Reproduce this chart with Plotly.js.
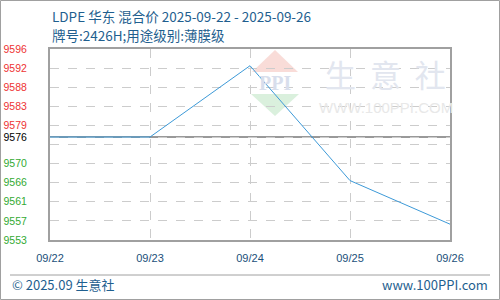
<!DOCTYPE html>
<html>
<head>
<meta charset="utf-8">
<script src="https://cdn.plot.ly/plotly-3.0.1.min.js"></script>
<style>html,body{margin:0;padding:0;background:#fff;}#chart{width:500px;height:300px;}</style>
</head>
<body>
<div id="chart"></div>
<script>
// ---- data ----
var dates = ['09/22', '09/23', '09/24', '09/25', '09/26'];
var prices = [9576.4, 9576.4, 9592.6, 9566.5, 9556.6];
var baseValue = 9576.4;
var baseLabel = '9576';
var basePctLabel = '0.00%';
var yRange = [9553, 9596.4];
var gridVals = [9553.0, 9557.34, 9561.68, 9566.02, 9570.36, 9574.70, 9579.04, 9583.38, 9587.72, 9592.06, 9596.4];
var leftLabels = ['9553', '9557', '9561', '9566', '9570', '', '9579', '9583', '9588', '9592', '9596'];
var rightLabels = ['-0.25%', '-0.20%', '-0.16%', '-0.11%', '-0.06%', '', '0.03%', '0.07%', '0.12%', '0.17%', '0.21%'];
var titleLine1 = 'LDPE 华东 混合价 2025-09-22 - 2025-09-26';
var titleLine2 = '牌号:2426H;用途级别:薄膜级';
var footerLeft = '© 2025.09 生意社';
var footerRight = 'www.100PPI.com';

// ---- build ----
var RED = '#ee3333', GREEN = '#33aa33', BLACK = '#000000';
function colored(t, v) {
  if (t === '') return '';
  var c = v > baseValue ? RED : (v < baseValue ? GREEN : BLACK);
  return '<span style="color:' + c + '">' + t + '</span>';
}
var lTickVals = gridVals.concat([baseValue]);
var lTickText = leftLabels.map(function (t, i) { return colored(t, gridVals[i]); }).concat(['<span style="color:#000">' + baseLabel + '</span>']);
var rTickText = rightLabels.map(function (t, i) { return colored(t, gridVals[i]); }).concat(['<span style="color:#000">' + basePctLabel + '</span>']);
var negVals = gridVals.filter(function (v, i) { return v < baseValue && rightLabels[i] !== ''; });

var W = 500, H = 300, ML = 50, MR = 50, MT = 49, MB = 60;
var PW = W - ML - MR, PH = H - MT - MB;
function px(x) { return (x - ML) / PW; }
function py(y) { return (H - MB - y) / PH; }

var traces = [{
  x: dates, y: prices, type: 'scatter', mode: 'lines',
  line: { color: '#3d9ad8', width: 1 }, hoverinfo: 'skip', showlegend: false
}];

var tickFont = { family: 'Liberation Sans, Arial, sans-serif', size: 10.5 };
var layout = {
  width: W, height: H,
  margin: { l: ML, r: MR, t: MT, b: MB, pad: 0 },
  paper_bgcolor: '#ffffff', plot_bgcolor: 'rgba(0,0,0,0)',
  showlegend: false,
  xaxis: {
    type: 'category', range: [0, dates.length - 1],
    showgrid: true, gridcolor: '#cccccc', griddash: 'dash', gridwidth: 1,
    showline: true, mirror: true, linecolor: '#a0a0a0', linewidth: 2,
    ticks: '', ticklabelstandoff: 7,
    tickfont: { family: tickFont.family, size: 11, color: '#1a4f7a' },
    zeroline: false, fixedrange: true
  },
  yaxis: {
    range: yRange, tickmode: 'array', tickvals: lTickVals, ticktext: lTickText,
    showgrid: true, gridcolor: '#cccccc', griddash: 'dash', gridwidth: 1,
    showline: true, mirror: true, linecolor: '#a0a0a0', linewidth: 2,
    ticks: '', ticklabelstandoff: 19, tickfont: tickFont,
    zeroline: false, fixedrange: true
  },
  yaxis2: {
    overlaying: 'y', side: 'right', range: yRange, tickmode: 'array',
    tickvals: lTickVals, ticktext: rTickText, showgrid: false, showline: false,
    ticks: '', ticklabelstandoff: 4, tickfont: tickFont, zeroline: false, fixedrange: true
  },
  yaxis3: {
    overlaying: 'y', side: 'right', range: yRange, tickmode: 'array',
    tickvals: negVals, showticklabels: false, showgrid: false, showline: false,
    ticks: 'outside', ticklen: 5, tickwidth: 2, tickcolor: GREEN, zeroline: false, fixedrange: true
  },
  shapes: [
    { type: 'line', xref: 'paper', yref: 'y', x0: 0, x1: 1, y0: baseValue, y1: baseValue,
      line: { color: '#999999', width: 2 }, layer: 'below' },
    { type: 'path', xref: 'paper', yref: 'paper', layer: 'below',
      path: 'M ' + px(275) + ' ' + py(50) + ' L ' + px(298) + ' ' + py(72) + ' L ' + px(252) + ' ' + py(72) + ' Z',
      fillcolor: '#f9dcd8', line: { width: 0 } },
    { type: 'path', xref: 'paper', yref: 'paper', layer: 'below',
      path: 'M ' + px(251) + ' ' + py(94) + ' L ' + px(299) + ' ' + py(94) + ' L ' + px(275) + ' ' + py(116) + ' Z',
      fillcolor: '#daf0dd', line: { width: 0 } },
    { type: 'line', xref: 'paper', yref: 'paper', x0: px(10), x1: px(490), y0: py(275), y1: py(275),
      line: { color: '#a0a0a0', width: 1 } },
    { type: 'rect', xref: 'paper', yref: 'paper', x0: px(0.5), x1: px(499.5), y0: py(0.5), y1: py(299.5),
      line: { color: '#a0a0a0', width: 1 } }
  ],
  annotations: [
    { xref: 'paper', yref: 'paper', x: px(50), y: py(16), xanchor: 'left', yanchor: 'middle', showarrow: false,
      text: titleLine1, font: { family: 'Noto Sans CJK SC, sans-serif', size: 13.5, color: '#1f5f8f' } },
    { xref: 'paper', yref: 'paper', x: px(50), y: py(35), xanchor: 'left', yanchor: 'middle', showarrow: false,
      text: titleLine2, font: { family: 'Noto Sans CJK SC, sans-serif', size: 13.5, color: '#1f5f8f' } },
    { xref: 'paper', yref: 'paper', x: px(10), y: py(284), xanchor: 'left', yanchor: 'middle', showarrow: false,
      text: footerLeft, font: { family: 'Noto Sans CJK SC, sans-serif', size: 13, color: '#1f5f8f' } },
    { xref: 'paper', yref: 'paper', x: px(490), y: py(284), xanchor: 'right', yanchor: 'middle', showarrow: false,
      text: footerRight, font: { family: 'Noto Sans CJK SC, sans-serif', size: 13, color: '#1f5f8f' } },
    { xref: 'paper', yref: 'paper', x: px(275), y: py(83), xanchor: 'center', yanchor: 'middle', showarrow: false,
      text: '<b>PPI</b>', font: { family: 'Liberation Serif, serif', size: 20, color: '#d8deec' } },
    { xref: 'paper', yref: 'paper', x: px(385), y: py(73), xanchor: 'center', yanchor: 'middle', showarrow: false,
      text: '生  意  社', font: { family: 'Noto Sans CJK SC, sans-serif', size: 31, color: '#e2e6ef' } },
    { xref: 'paper', yref: 'paper', x: px(386), y: py(107), xanchor: 'center', yanchor: 'middle', showarrow: false,
      text: 'WWW.100PPI.COM', font: { family: 'Liberation Sans, Arial, sans-serif', size: 15, color: '#e8e8e8' } }
  ]
};

Plotly.newPlot('chart', traces, layout, { displayModeBar: false, staticPlot: true });
</script>
</body>
</html>
